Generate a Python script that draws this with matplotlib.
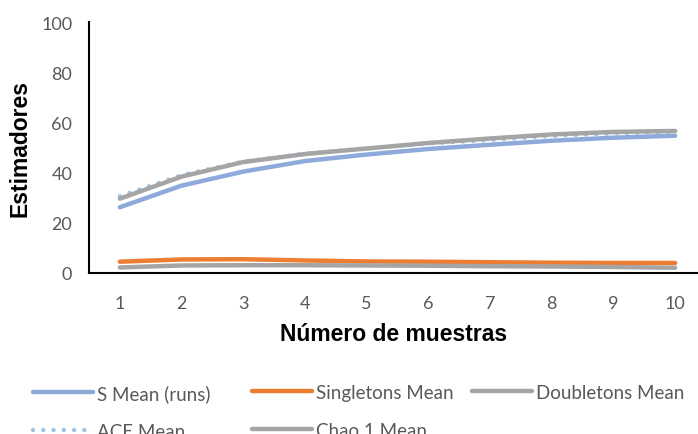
import matplotlib.pyplot as plt

# datos
muestras = [1, 2, 3, 4, 5, 6, 7, 8, 9, 10]
s_mean = [26.2, 34.8, 40.4, 44.6, 47.2, 49.4, 51.1, 52.7, 53.9, 54.7]
singletons = [4.5, 5.4, 5.5, 5.0, 4.6, 4.5, 4.3, 4.1, 4.0, 4.0]
doubletons = [2.2, 3.0, 3.1, 3.1, 3.0, 2.9, 2.7, 2.6, 2.4, 2.1]
ace = [30.6, 39.0, 44.4, 47.6, 49.6, 51.6, 53.0, 54.6, 55.6, 56.2]
chao1 = [29.6, 38.4, 44.2, 47.4, 49.6, 51.8, 53.6, 55.2, 56.2, 56.6]

plt.rcParams['font.family'] = ['Liberation Sans', 'DejaVu Sans']
gris = '#595959'

fig = plt.figure(figsize=(6.98, 4.35), dpi=100)
ax = fig.add_axes([89/698, 1-274/435, 1-89/698, (274-23)/435])

l_s, = ax.plot(muestras, s_mean, color='#8eaadb', lw=3.2, label='S Mean (runs)', solid_capstyle='round')
l_si, = ax.plot(muestras, singletons, color='#ed7d31', lw=3.2, label='Singletons Mean', solid_capstyle='round')
l_do, = ax.plot(muestras, doubletons, color='#a5a5a5', lw=3.2, label='Doubletons Mean', solid_capstyle='round')
l_ace, = ax.plot(muestras, ace, color='#9dc3e6', lw=3.2, ls=(0, (0.01, 2.3)), label='ACE Mean', dash_capstyle='round')
l_ch, = ax.plot(muestras, chao1, color='#a5a5a5', lw=3.2, label='Chao 1 Mean', solid_capstyle='round')

ax.set_xlim(0.5, 10.37)
ax.set_ylim(0, 100)
ax.set_xticks(muestras)
ax.set_yticks([0, 20, 40, 60, 80, 100])
ax.tick_params(length=0, labelsize=13, labelcolor=gris)
ax.tick_params(axis='x', pad=16)
ax.tick_params(axis='y', pad=12)
for lab in ax.get_xticklabels() + ax.get_yticklabels():
    lab.set_family('Lato')
for s in ['top', 'right']:
    ax.spines[s].set_visible(False)
for s in ['left', 'bottom']:
    ax.spines[s].set_linewidth(1.5)
    ax.spines[s].set_color('black')

ax.set_ylabel('Estimadores', fontsize=16.5, fontweight='bold', labelpad=7)
ax.set_xlabel('Número de muestras', fontsize=16.5, fontweight='bold', labelpad=8)

# leyenda en tres columnas como en Excel
columnas = [([l_s, l_ace], 33), ([l_si, l_ch], 252), ([l_do], 472)]
for hs, x0 in columnas:
    leg = fig.legend(handles=hs, loc='upper left', bbox_to_anchor=(x0/698, 1-385/435),
                     frameon=False, prop={'family': 'Lato', 'size': 13.5},
                     handlelength=3.2, handletextpad=0.2, labelspacing=1.1,
                     borderpad=0, borderaxespad=0)
    for t in leg.get_texts():
        t.set_color(gris)

fig.savefig('out.png', dpi=100)
